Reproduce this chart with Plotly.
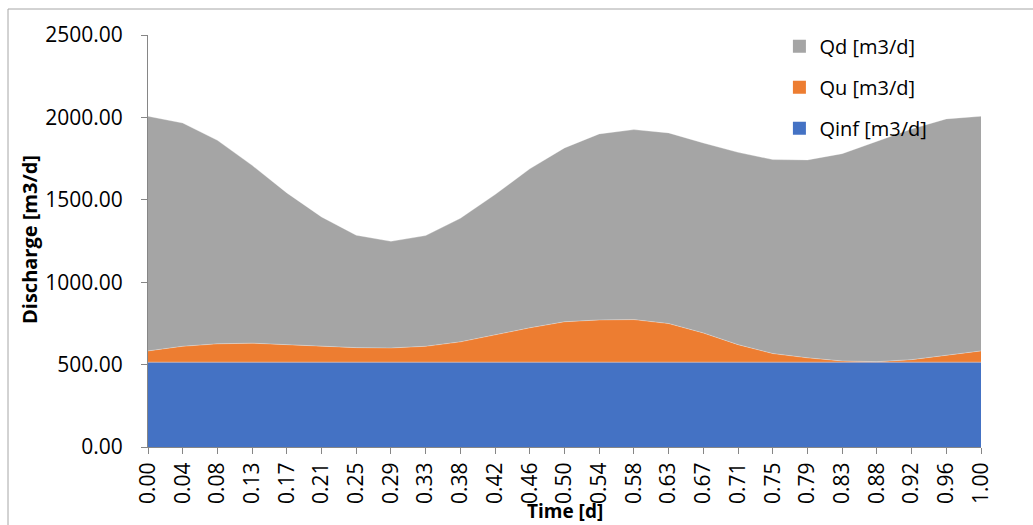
import plotly.graph_objects as go

# Time categories (fraction of a day) and discharge components [m3/d]
time_labels = ["0.00", "0.04", "0.08", "0.13", "0.17", "0.21", "0.25", "0.29", "0.33",
               "0.38", "0.42", "0.46", "0.50", "0.54", "0.58", "0.63", "0.67", "0.71",
               "0.75", "0.79", "0.83", "0.88", "0.92", "0.96", "1.00"]
q_inf = [515] * 25
q_u = [68, 96, 111, 115, 106, 96, 88, 86, 96, 123, 165, 208, 245, 256, 258, 234,
       177, 106, 52, 26, 7, 3, 15, 40, 68]
q_d = [1424, 1355, 1235, 1079, 921, 785, 682, 647, 672, 750, 852, 965, 1055, 1129,
       1153, 1157, 1153, 1167, 1177, 1201, 1258, 1337, 1400, 1436, 1424]

series = [
    ("Qinf [m3/d]", q_inf, "#4472C4"),
    ("Qu [m3/d]", q_u, "#ED7D31"),
    ("Qd [m3/d]", q_d, "#A5A5A5"),
]

FONT = "Open Sans"
TICK_SIZE = 21
x_idx = list(range(len(time_labels)))

fig = go.Figure()
for name, vals, color in series:
    fig.add_trace(go.Scatter(
        x=x_idx, y=vals, name=name, stackgroup="q", mode="lines",
        line=dict(width=0.6, color="rgba(255,255,255,0.5)"),
        fillcolor=color, showlegend=False, hoverinfo="x+y+name",
    ))

# Square legend keys, top-down: Qd, Qu, Qinf; one group each for row spacing
for name, vals, color in reversed(series):
    fig.add_trace(go.Scatter(
        x=[None], y=[None], name=name, mode="markers",
        marker=dict(symbol="square", size=13, color=color),
        legendgroup=name, showlegend=True,
    ))

fig.update_layout(
    width=1033, height=525,
    margin=dict(l=148, r=52, t=35, b=78),
    paper_bgcolor="white", plot_bgcolor="white",
    font=dict(family=FONT, size=TICK_SIZE, color="#000000"),
    showlegend=True,
    legend=dict(
        x=0.758, y=1.02, xanchor="left", yanchor="top",
        traceorder="grouped", tracegroupgap=12,
        bgcolor="rgba(0,0,0,0)", font=dict(family=FONT, size=20, color="#000000"),
        itemclick=False,
    ),
    xaxis=dict(
        range=[0, len(time_labels) - 1],
        tickmode="array", tickvals=x_idx, ticktext=time_labels,
        tickangle=-90, ticks="outside", ticklen=6, tickcolor="#868686",
        ticklabelstandoff=0,
        showline=True, linecolor="#868686", linewidth=1,
        showgrid=False, zeroline=False,
        tickfont=dict(family=FONT, size=TICK_SIZE, color="#000000"),
    ),
    yaxis=dict(
        range=[0, 2500], tickvals=[0, 500, 1000, 1500, 2000, 2500],
        tickformat=".2f", ticks="outside", ticklen=6, tickcolor="#868686",
        ticklabelstandoff=14,
        showline=True, linecolor="#868686", linewidth=1,
        showgrid=False, zeroline=False,
        tickfont=dict(family=FONT, size=TICK_SIZE, color="#000000"),
    ),
)

# Axis titles
fig.add_annotation(text="<b>Time [d]</b>", xref="paper", yref="paper",
                   x=0.5, y=(447 - 511) / 412, xanchor="center", yanchor="middle",
                   showarrow=False, font=dict(family=FONT, size=19, color="#000000"))
fig.add_annotation(text="<b>Discharge [m3/d]</b>", xref="paper", yref="paper",
                   x=(29 - 148) / 833, y=(447 - 240) / 412, xanchor="center",
                   yanchor="middle", textangle=-90, showarrow=False,
                   font=dict(family=FONT, size=20, color="#000000"))

# Chart frame
fig.add_shape(type="rect", xref="paper", yref="paper",
              x0=(8 - 148) / 833, x1=1.2, y0=-0.3, y1=1 + (35 - 9) / 412,
              line=dict(color="#A6A6A6", width=1), fillcolor="rgba(0,0,0,0)",
              layer="below")

fig.write_html("out.html")
